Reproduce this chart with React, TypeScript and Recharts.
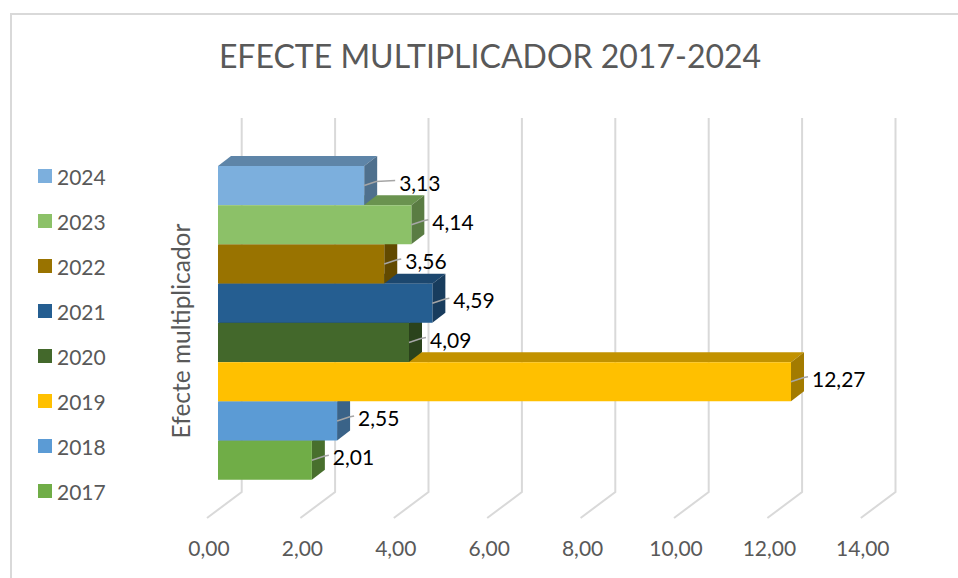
import React from "react";
import {
  Bar,
  BarChart,
  CartesianGrid,
  Cell,
  LabelList,
  Legend,
  XAxis,
  YAxis,
} from "recharts";

const years = ["2017", "2018", "2019", "2020", "2021", "2022", "2023", "2024"];
const values = [2.01, 2.55, 12.27, 4.09, 4.59, 3.56, 4.14, 3.13];
const colors = [
  "#70AD47",
  "#5B9BD5",
  "#FFC000",
  "#43682B",
  "#255E91",
  "#997300",
  "#8CC168",
  "#7CAFDD",
];
const xTicks = [0, 2, 4, 6, 8, 10, 12, 14];
const categoryLabel = "Efecte multiplicador";
const title = "EFECTE MULTIPLICADOR 2017-2024";

const data = years.map((year, i) => ({ year, value: values[i] }));

const FONT = "Lato, 'Open Sans', sans-serif";
const GREY = "#595959";
// 3D depth of the bars and the back wall
const DX = 13;
const DY = 10;
const WALL_DX = 23.7;
// the 2024 label was dragged a little to the right in the original
const labelShift: Record<number, number> = { 7: 14 };

function shade(hex: string, f: number) {
  const n = parseInt(hex.slice(1), 16);
  const r = Math.round(((n >> 16) & 255) * f);
  const g = Math.round(((n >> 8) & 255) * f);
  const b = Math.round((n & 255) * f);
  return `rgb(${r},${g},${b})`;
}

function Bar3D(props: any) {
  const { x, y, width, height, index } = props;
  const c = colors[index];
  const top = `${x},${y} ${x + DX},${y - DY} ${x + width + DX},${y - DY} ${x + width},${y}`;
  const side = `${x + width},${y} ${x + width + DX},${y - DY} ${x + width + DX},${y + height - DY} ${x + width},${y + height}`;
  return (
    <g>
      <polygon points={top} fill={shade(c, 0.76)} />
      <polygon points={side} fill={shade(c, 0.64)} />
      <rect x={x} y={y} width={width} height={height} fill={c} />
    </g>
  );
}

function GridLine(props: any) {
  const { x1, y1, y2 } = props;
  const d = `M${x1 + WALL_DX},${y1 - 48} L${x1 + WALL_DX},${y2 + 12} L${x1 - 11},${y2 + 38}`;
  return <path key={props.key ?? x1} d={d} fill="none" stroke="#d9d9d9" strokeWidth={2} />;
}

function XTick(props: any) {
  const { x, y, payload } = props;
  return (
    <text x={x - 9} y={y + 76} textAnchor="middle" fontSize={21} fill={GREY} fontFamily={FONT}>
      {payload.value.toFixed(2).replace(".", ",")}
    </text>
  );
}

function ValueLabel(props: any) {
  const { x, y, width, height, value, index } = props;
  const mid = y + height / 2;
  const right = x + width;
  const shift = labelShift[index] ?? 0;
  const tx = right + DX + 8 + shift;
  return (
    <g>
      <polyline
        points={`${right},${mid} ${right + DX - 1},${mid - 4} ${tx - 4},${mid - 5}`}
        fill="none"
        stroke="#a6a6a6"
        strokeWidth={1.5}
      />
      <text x={tx} y={mid + 5} fontSize={21} fill="#000" fontFamily={FONT}>
        {Number(value).toFixed(2).replace(".", ",")}
      </text>
    </g>
  );
}

function AxisName(props: any) {
  const { viewBox } = props;
  const cx = viewBox.x + 22;
  const cy = viewBox.y + viewBox.height / 2 + 8;
  return (
    <text
      transform={`translate(${cx},${cy}) rotate(-90)`}
      textAnchor="middle"
      fontSize={24.5}
      fill={GREY}
      fontFamily={FONT}
    >
      {categoryLabel}
    </text>
  );
}

function LegendList() {
  const items = years.map((y, i) => ({ y, c: colors[i] })).reverse();
  return (
    <div style={{ fontFamily: FONT }}>
      {items.map((it) => (
        <div key={it.y} style={{ height: 45, display: "flex", alignItems: "center" }}>
          <span style={{ width: 14, height: 14, background: it.c, marginRight: 5 }} />
          <span style={{ fontSize: 21, color: GREY }}>{it.y}</span>
        </div>
      ))}
    </div>
  );
}

export default function App() {
  return (
    <div
      style={{
        position: "absolute",
        left: 0,
        top: 0,
        width: 958,
        height: 578,
        background: "#fff",
        overflow: "hidden",
      }}
    >
      <div
        style={{
          position: "absolute",
          left: 10,
          top: 13,
          width: 960,
          height: 580,
          borderLeft: "2px solid #d9d9d9",
          borderTop: "2px solid #d9d9d9",
        }}
      />
      <div
        style={{
          position: "absolute",
          left: 0,
          top: 39.6,
          width: 980,
          textAlign: "center",
          fontSize: 32,
          lineHeight: "32px",
          color: GREY,
          fontFamily: FONT,
        }}
      >
        {title}
      </div>
      <div style={{ position: "absolute", left: 0, top: 0 }}>
        <BarChart
          width={958}
          height={578}
          data={data}
          layout="vertical"
          barCategoryGap={0}
          margin={{ top: 166, right: 86.2, bottom: 38, left: 168 }}
        >
          <CartesianGrid horizontal={false} vertical={(p: any) => <GridLine {...p} />} />
          <XAxis
            type="number"
            domain={[0, 14]}
            ticks={xTicks}
            interval={0}
            axisLine={false}
            tickLine={false}
            tickSize={0}
            tickMargin={0}
            height={60}
            tick={<XTick />}
          />
          <YAxis
            type="category"
            dataKey="year"
            reversed
            width={50}
            tick={false}
            axisLine={false}
            tickLine={false}
            label={{ content: <AxisName /> }}
          />
          <Legend
            layout="vertical"
            align="center"
            verticalAlign="middle"
            wrapperStyle={{ left: 38, top: 153.5, width: 120 }}
            content={<LegendList />}
          />
          <Bar dataKey="value" isAnimationActive={false} shape={<Bar3D />}>
            {data.map((d, i) => (
              <Cell key={d.year} fill={colors[i]} />
            ))}
            <LabelList dataKey="value" content={<ValueLabel />} />
          </Bar>
        </BarChart>
      </div>
    </div>
  );
}
